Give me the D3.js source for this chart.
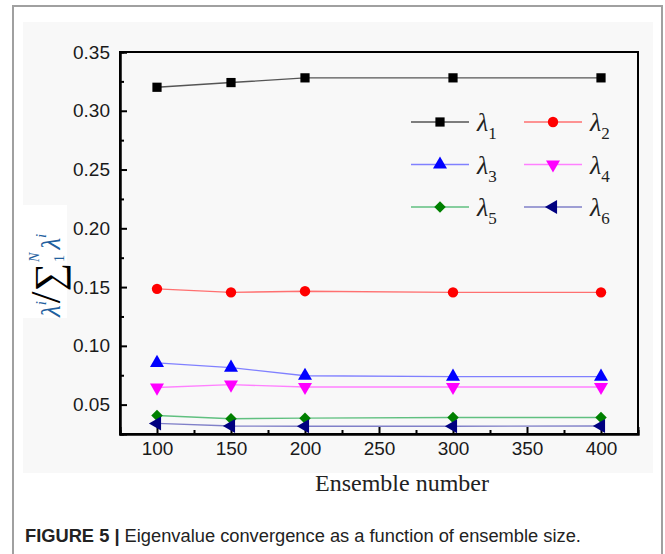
<!DOCTYPE html>
<html>
<head>
<meta charset="utf-8">
<script src="https://cdn.jsdelivr.net/npm/d3@7"></script>
<style>
  body { margin: 0; background: #fff; }
  svg { display: block; }
</style>
</head>
<body>
<div id="chart"></div>
<script>
// ensemble sizes on the x axis
const ensembleSizes = [100, 150, 200, 300, 400];

// normalised eigenvalues per ensemble size
const lambda1 = [0.320, 0.324, 0.328, 0.328, 0.328];
const lambda2 = [0.1485, 0.1455, 0.1465, 0.1455, 0.1455];
const lambda3 = [0.0855, 0.0815, 0.0745, 0.0738, 0.0738];
const lambda4 = [0.0645, 0.0670, 0.0650, 0.0650, 0.0650];
const lambda5 = [0.0408, 0.0380, 0.0385, 0.0390, 0.0390];
const lambda6 = [0.0340, 0.0318, 0.0316, 0.0316, 0.0318];

const xTicks = [100, 150, 200, 250, 300, 350, 400];
const yTicks = [0.05, 0.10, 0.15, 0.20, 0.25, 0.30, 0.35];

const series = [
  { sub: "1", values: lambda1, line: "#555555", fill: "#000000", shape: "square" },
  { sub: "2", values: lambda2, line: "#ff7070", fill: "#ff0000", shape: "circle" },
  { sub: "3", values: lambda3, line: "#8080ff", fill: "#0000ff", shape: "up" },
  { sub: "4", values: lambda4, line: "#ff80ff", fill: "#ff00ff", shape: "down" },
  { sub: "5", values: lambda5, line: "#60c080", fill: "#008000", shape: "diamond" },
  { sub: "6", values: lambda6, line: "#8080c8", fill: "#000080", shape: "left" },
];

const width = 665, height = 554;
const plot = { left: 120, right: 638, top: 52, bottom: 434 };

const svg = d3.select("#chart").append("svg")
  .attr("width", width)
  .attr("height", height);

// outer figure frame + light panel
svg.append("rect")
  .attr("x", 13).attr("y", 6)
  .attr("width", 649).attr("height", 600)
  .attr("fill", "#fff")
  .attr("stroke", "#a0a0a0")
  .attr("stroke-width", 2);

svg.append("rect")
  .attr("x", 23).attr("y", 22)
  .attr("width", 630).attr("height", 451)
  .attr("fill", "#f8f8f8");

const x = d3.scaleLinear().domain([75, 425]).range([plot.left, plot.right]);
const y = d3.scaleLinear().domain([0.025, 0.35]).range([plot.bottom, plot.top]);

// plot frame
svg.append("rect")
  .attr("x", plot.left).attr("y", plot.top)
  .attr("width", plot.right - plot.left)
  .attr("height", plot.bottom - plot.top)
  .attr("fill", "none")
  .attr("stroke", "#000")
  .attr("stroke-width", 2);

const tickFont = "'Liberation Sans', Arial, sans-serif";

// x axis, ticks pointing inwards
svg.append("g")
  .attr("transform", `translate(0,${plot.bottom})`)
  .call(d3.axisBottom(x).tickValues(xTicks).tickSize(-7).tickPadding(8).tickFormat(d3.format("d")));

svg.append("g")
  .attr("transform", `translate(0,${plot.bottom})`)
  .call(d3.axisBottom(x).tickValues([125, 175, 225, 275, 325, 375]).tickSize(-4).tickFormat(""));

// y axis
svg.append("g")
  .attr("transform", `translate(${plot.left},0)`)
  .call(d3.axisLeft(y).tickValues(yTicks).tickSize(-7).tickPadding(10).tickFormat(d3.format(".2f")));

svg.append("g")
  .attr("transform", `translate(${plot.left},0)`)
  .call(d3.axisLeft(y).tickValues([0.075, 0.125, 0.175, 0.225, 0.275, 0.325]).tickSize(-4).tickFormat(""));

svg.selectAll(".domain").attr("stroke", "#000").attr("stroke-width", 2);
svg.selectAll(".tick line").attr("stroke", "#000").attr("stroke-width", 2);
svg.selectAll(".tick text")
  .attr("font-family", tickFont)
  .attr("font-size", 19)
  .attr("fill", "#1a1a1a");

// marker shapes
const symbolFor = shape => {
  if (shape === "square") return d3.symbol(d3.symbolSquare, 85)();
  if (shape === "circle") return d3.symbol(d3.symbolCircle, 85)();
  if (shape === "diamond") return d3.symbol(d3.symbolSquare, 66)();
  return d3.symbol(d3.symbolTriangle, 85)();
};
const rotationFor = shape => ({ diamond: 45, down: 180, left: -90 }[shape] || 0);

const line = d3.line()
  .x((d, i) => x(ensembleSizes[i]))
  .y(d => y(d));

const lines = svg.append("g");
series.forEach(s => {
  lines.append("path")
    .attr("d", line(s.values))
    .attr("fill", "none")
    .attr("stroke", s.line)
    .attr("stroke-width", 1.4);
});

series.forEach(s => {
  svg.append("g")
    .selectAll("path")
    .data(s.values)
    .join("path")
      .attr("d", symbolFor(s.shape))
      .attr("transform", (d, i) => `translate(${x(ensembleSizes[i])},${y(d)}) rotate(${rotationFor(s.shape)})`)
      .attr("fill", s.fill);
});

// legend, two columns
const legend = svg.append("g");
series.forEach((s, i) => {
  const lx = i % 2 === 0 ? 411 : 524;
  const ly = 122 + Math.floor(i / 2) * 42.5;
  const g = legend.append("g").attr("transform", `translate(${lx},${ly})`);
  g.append("line")
    .attr("x1", 0).attr("x2", 58)
    .attr("stroke", s.line).attr("stroke-width", 1.4);
  g.append("path")
    .attr("d", symbolFor(s.shape))
    .attr("transform", `translate(29,0) rotate(${rotationFor(s.shape)})`)
    .attr("fill", s.fill);
  const t = g.append("text")
    .attr("x", 66).attr("y", 9)
    .attr("font-family", "'Liberation Serif', 'Times New Roman', serif")
    .attr("fill", "#222");
  t.append("tspan").attr("font-size", 26).attr("font-style", "italic").text("λ");
  t.append("tspan").attr("font-size", 17).attr("dy", 8).text(s.sub);
});

// y axis title: λ^i / Σ_1^N λ^i
svg.append("rect")
  .attr("x", 22).attr("y", 205)
  .attr("width", 45).attr("height", 113)
  .attr("fill", "#ffffff");
const yTitle = svg.append("g").attr("transform", "translate(44,262) rotate(-90)");
const serif = "'Liberation Serif', 'Times New Roman', serif";
const blue = "#1f5f9e";
const tt = yTitle.append("text")
  .attr("x", -55).attr("y", 16)
  .attr("font-family", serif)
  .attr("fill", blue);
tt.append("tspan").attr("font-size", 27).attr("font-style", "italic").text("λ");
tt.append("tspan").attr("font-size", 15).attr("font-style", "italic").attr("dy", -14).text("i");
tt.append("tspan").attr("font-size", 42).attr("fill", "#000").attr("dy", 14).attr("dx", -2).text("/");
tt.append("tspan").attr("font-size", 40).attr("fill", "#000").attr("dy", 2).text("∑");
tt.append("tspan").attr("font-size", 14).attr("dy", 2).attr("dx", 1).text("1");
tt.append("tspan").attr("font-size", 14).attr("font-style", "italic").attr("dy", -25).attr("dx", -7).text("N");
tt.append("tspan").attr("font-size", 27).attr("font-style", "italic").attr("dy", 21).attr("dx", 3).text("λ");
tt.append("tspan").attr("font-size", 15).attr("font-style", "italic").attr("dy", -14).text("i");

// x axis title
svg.append("text")
  .attr("x", (plot.left + plot.right) / 2 + 23)
  .attr("y", 491)
  .attr("text-anchor", "middle")
  .attr("font-family", serif)
  .attr("font-size", 24)
  .attr("fill", "#222")
  .text("Ensemble number");

// caption
const cap = svg.append("text")
  .attr("x", 25).attr("y", 542)
  .attr("font-family", tickFont)
  .attr("font-size", 18.3)
  .attr("fill", "#222");
cap.append("tspan").attr("font-weight", "bold").text("FIGURE 5 | ");
cap.append("tspan").text("Eigenvalue convergence as a function of ensemble size.");
</script>
</body>
</html>
